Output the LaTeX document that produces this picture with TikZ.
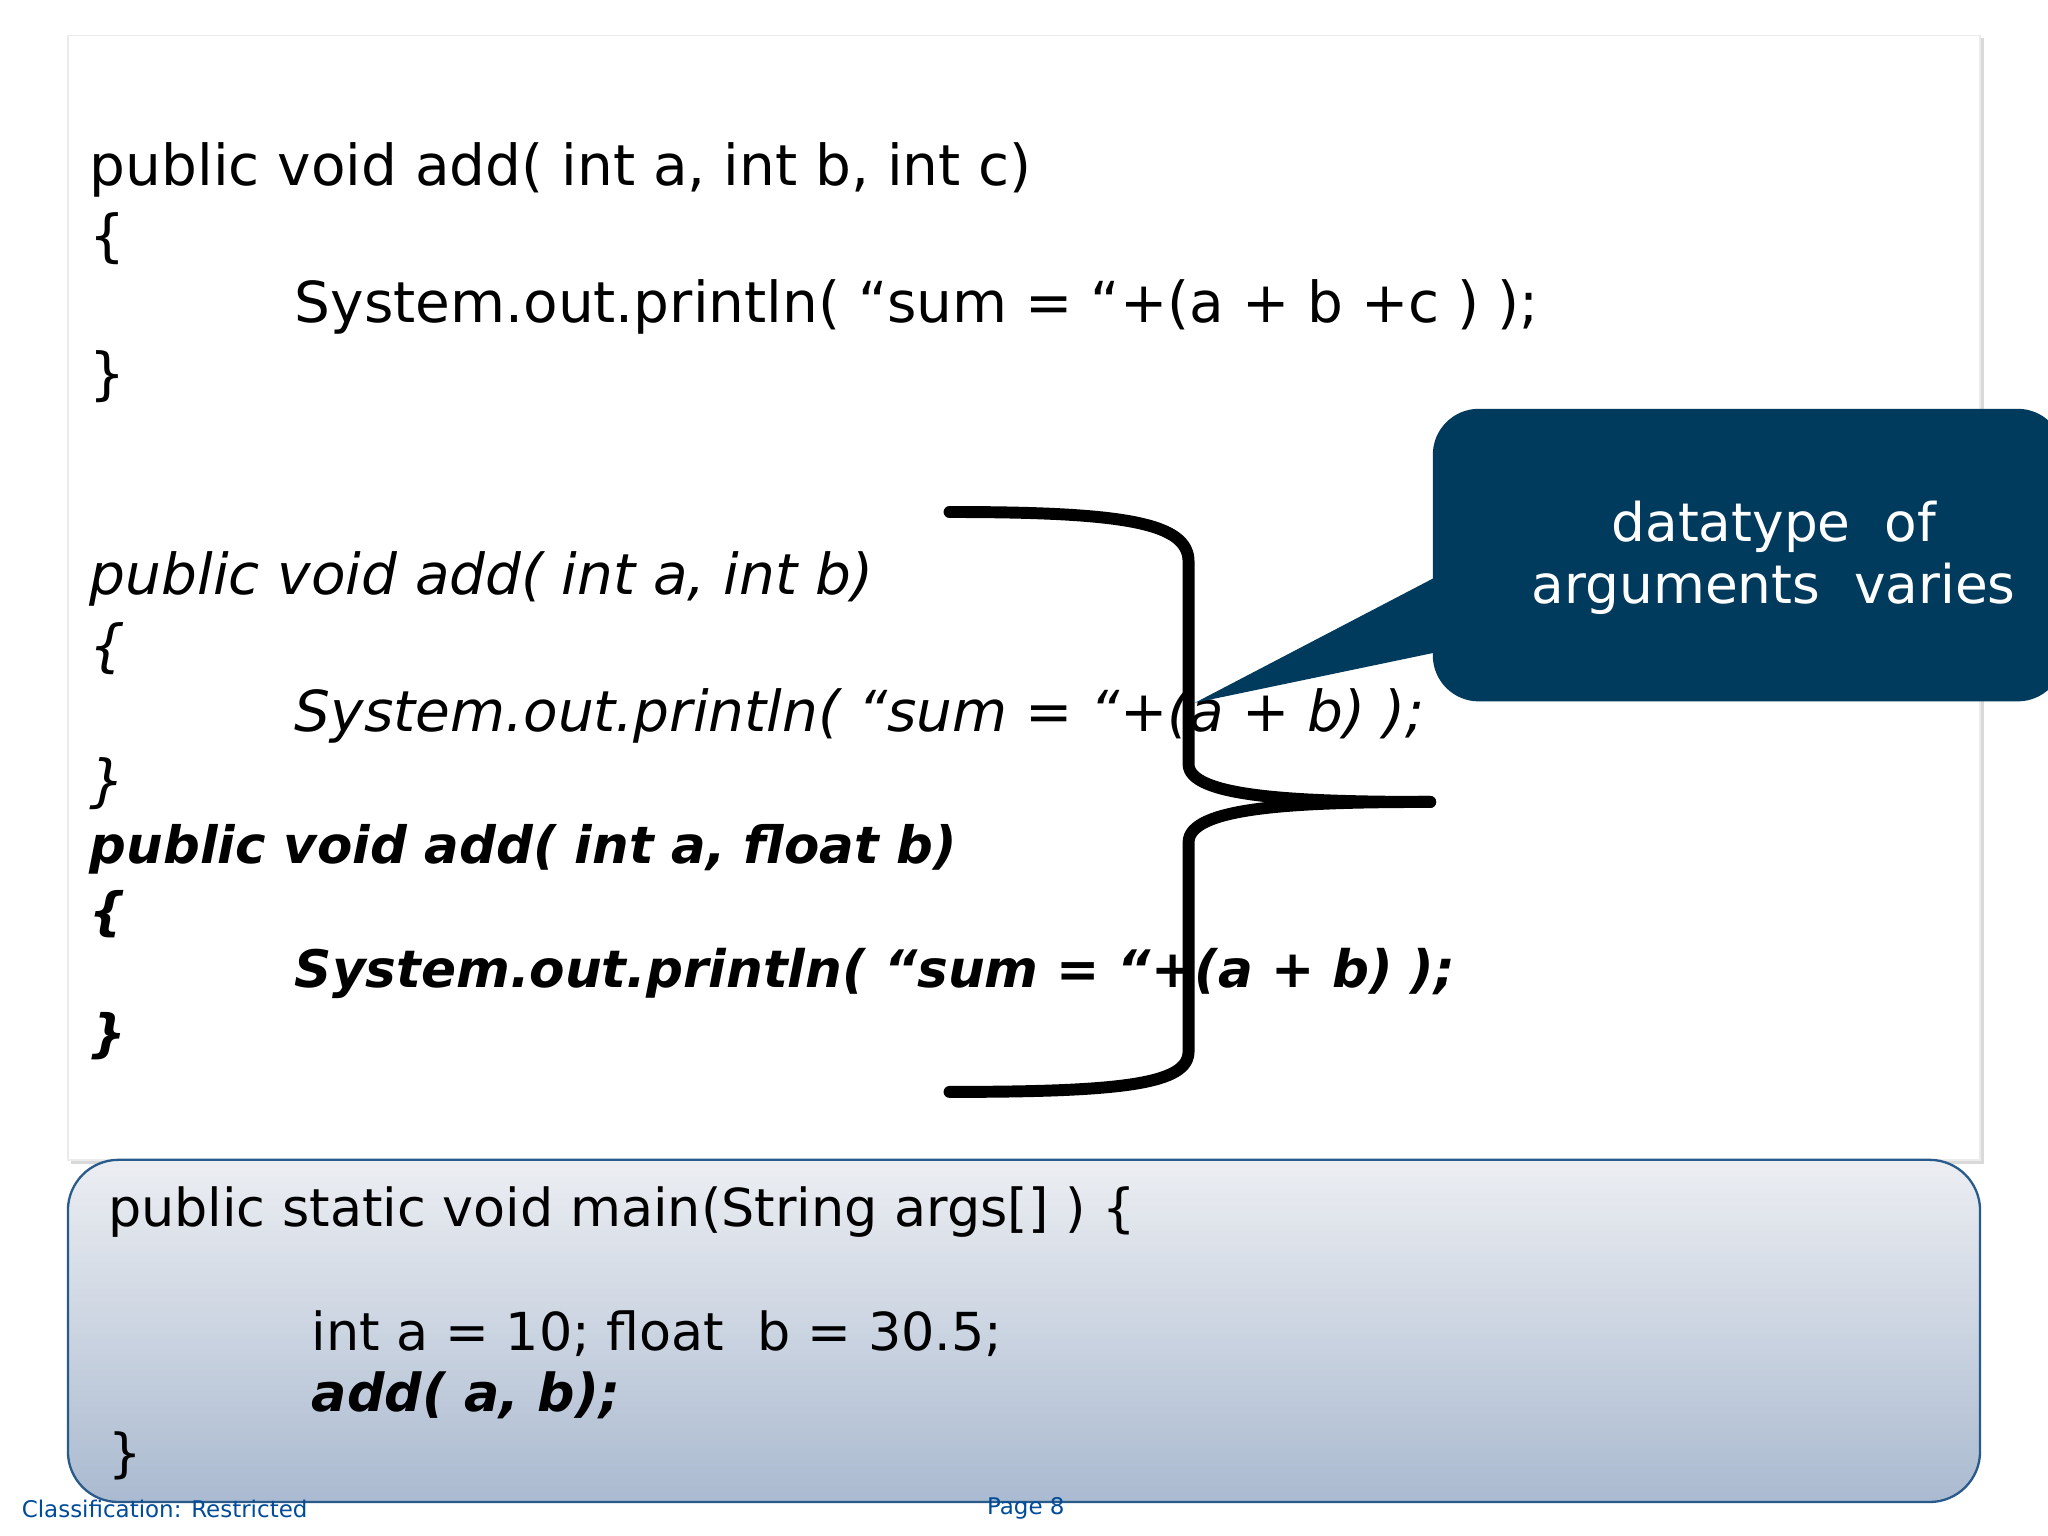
\documentclass[tikz,border=0pt]{standalone}
\usepackage{fontspec}
\setmainfont{DejaVu Sans}
\begin{document}
\begin{tikzpicture}[x=0.01cm,y=-0.01cm,
  code/.style={anchor=west,inner sep=0pt,font=\fontsize{12.3pt}{14pt}\selectfont},
  main/.style={anchor=west,inner sep=0pt,font=\fontsize{11.4pt}{14pt}\selectfont},
  brace/.style={line width=2.6pt,line cap=round,line join=round},
  foot/.style={anchor=west,inner sep=0pt,text=blue!50!cyan!60!black,font=\fontsize{5pt}{6pt}\selectfont}]
\useasboundingbox (0,0) rectangle (1568,1176);
\fill[white] (0,0) rectangle (1568,1176);
\fill[black!15] (54,29) rectangle (1519,891);
\fill[white,draw=black!8,line width=0.3pt] (52,27) rectangle (1516,888);
% code
\node[code] (l1) at (68,130) {public void add( int a, int b, int c)};
\node[code] (l2) at (68,183) {\{};
\node[code] (l3) at (225,235) {System.out.println( “sum = “+(a + b +c ) );};
\node[code] (l4) at (68,288) {\}};
\node[code,font=\fontsize{12.3pt}{14pt}\itshape] (m1) at (68,443) {public void add( int a, int b)};
\node[code,font=\fontsize{12.3pt}{14pt}\itshape] (m2) at (68,497) {\{};
\node[code,font=\fontsize{12.3pt}{14pt}\itshape] (m3) at (225,548) {System.out.println( “sum = “+(a + b) );};
\node[code,font=\fontsize{12.3pt}{14pt}\itshape] (m4) at (68,600) {\}};
\node[code,font=\fontsize{11.2pt}{14pt}\bfseries\itshape] (n1) at (68,650) {public void add( int a, float b)};
\node[code,font=\fontsize{11.2pt}{14pt}\bfseries\itshape] (n2) at (68,700) {\{};
\node[code,font=\fontsize{11.25pt}{14pt}\bfseries\itshape] (n3) at (225,745) {System.out.println( “sum = “+(a + b) );};
\node[code,font=\fontsize{11.2pt}{14pt}\bfseries\itshape] (n4) at (68,793) {\}};
% brace
\coordinate (bt) at (727,392);
\coordinate (bm) at (1095,614);
\coordinate (bb) at (727,836);
\draw[brace] (bt) .. controls (860,392) and (910,400) .. (910,430) -- (910,585)
  .. controls (910,610) and (990,614) .. (bm);
\draw[brace] (bm) .. controls (990,614) and (910,618) .. (910,645) -- (910,805)
  .. controls (910,830) and (860,836) .. (bb);
% callout
\coordinate (tip) at (915,538);
\fill[fill={rgb,255:red,0;green,58;blue,92}] (tip) -- (1097,443)
  {[rounded corners=10pt] -- (1097,313) -- (1580,313) -- (1580,537) -- (1097,537)} -- (1097,500) -- cycle;
\node[text=white,align=center,font=\fontsize{11.6pt}{13.5pt}\selectfont] (call) at (1358,427) {datatype\ \ of\\arguments\ \ varies};
% bottom box
\shade[top color={rgb,255:red,236;green,238;blue,242},bottom color={rgb,255:red,170;green,186;blue,208},rounded corners=11pt]
  (52,888) rectangle (1516,1150);
\draw[line width=0.5pt,draw={rgb,255:red,40;green,90;blue,140},rounded corners=11pt] (52,888) rectangle (1516,1150);
\node[main] (p1) at (82,928) {public static void main(String args[] ) \{};
\node[main] (p2) at (238,1021) {int a = 10; float\ \ b = 30.5;};
\node[main,font=\fontsize{11.4pt}{14pt}\bfseries\itshape] (p3) at (238,1068) {add( a, b);};
\node[main] (p4) at (82,1115) {\}};
\node[foot] (f1) at (16,1155) {Classification: Restricted};
\node[foot] (f2) at (755,1155) {Page 8};
\end{tikzpicture}
\end{document}
